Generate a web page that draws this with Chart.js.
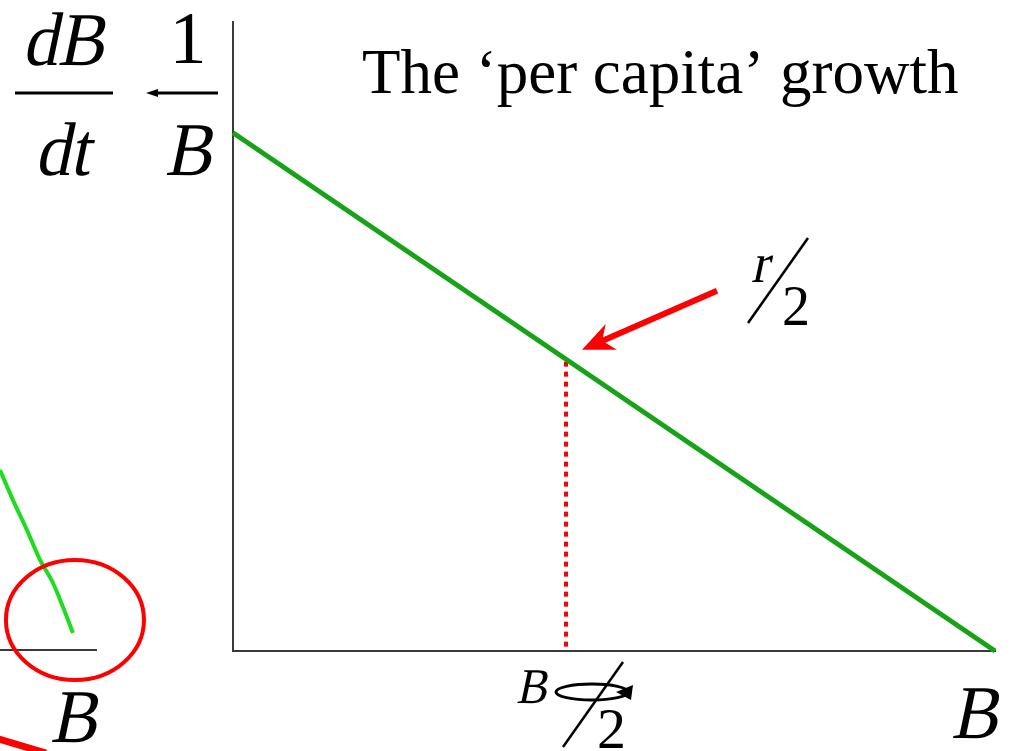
<!DOCTYPE html>
<html>
<head>
<meta charset="utf-8">
<script src="https://cdn.jsdelivr.net/npm/chart.js@4"></script>
<style>
  body { margin: 0; background: #fff; }
  canvas { position: absolute; }
  #main { left: 0; top: 0; }
  #side { left: 0; top: 440px; }
</style>
</head>
<body>
<canvas id="main" width="1011" height="751"></canvas>
<canvas id="side" width="160" height="311"></canvas>
<script>
// per capita growth: straight line from r at B=0 down to 0 at B=K
const growthX = [0, 1];
const growthY = [0.824, 0];
// dotted marker at K/2
const halfX = [0.437, 0.437];
const halfY = [0.46, 0];
// tail of the curve from the previous panel (cut off on the left)
const leftCurveX = [0, 0.135, 0.281, 0.417, 0.552, 0.656, 0.76];
const leftCurveY = [0.857, 0.714, 0.571, 0.429, 0.319, 0.205, 0.081];

const titleText = 'The \u2018per capita\u2019 growth';
const axisName = 'B';

const toPoints = (xs, ys) => xs.map((x, i) => ({x: x, y: ys[i]}));
const serif = '"Liberation Serif", "Times New Roman", serif';

function axisOpts(fitKey) {
    return {
        type: 'linear',
        min: 0,
        max: 1,
        grid: {display: true, drawOnChartArea: false, drawTicks: false},
        ticks: {display: false},
        border: {display: true, color: '#3a3a3a', width: 2},
        afterFit: s => { s[fitKey] = 0; }
    };
}

// italic is done by slanting the upright serif face (no serif italic installed)
function text(ctx, str, x, y, size, italic, align) {
    ctx.save();
    ctx.font = size + 'px ' + serif;
    ctx.textAlign = align || 'left';
    ctx.textBaseline = 'alphabetic';
    ctx.fillStyle = '#000';
    ctx.translate(x, y);
    if (italic) ctx.transform(0.92, 0, -0.21, 1, 0, 0);
    ctx.fillText(str, 0, 0);
    ctx.restore();
}

function line(ctx, x1, y1, x2, y2, w, color) {
    ctx.beginPath();
    ctx.moveTo(x1, y1);
    ctx.lineTo(x2, y2);
    ctx.lineWidth = w;
    ctx.strokeStyle = color;
    ctx.stroke();
}

const mainLabels = {
    id: 'mainLabels',
    afterDatasetsDraw(chart) {
        const ctx = chart.ctx;
        const xs = chart.scales.x, ys = chart.scales.y;
        ctx.save();

        // title
        text(ctx, titleText, 362, 93, 63, false);

        // dB/dt  1/B
        text(ctx, 'dB', 63, 65, 76, true, 'center');
        line(ctx, 15, 93, 113, 93, 3, '#000');
        text(ctx, 'dt', 62, 175, 76, true, 'center');
        text(ctx, '1', 188, 63, 74, false, 'center');
        line(ctx, 152, 93, 218, 93, 3, '#000');
        ctx.beginPath();
        ctx.moveTo(146, 93);
        ctx.lineTo(158, 89);
        ctx.lineTo(158, 97);
        ctx.closePath();
        ctx.fillStyle = '#000';
        ctx.fill();
        text(ctx, 'B', 188, 175, 76, true, 'center');

        // arrow pointing at the K/2 point
        const px = xs.getPixelForValue(halfX[0]);
        const py = ys.getPixelForValue(halfY[0]);
        const tipX = px + 16, tipY = py - 12;
        const tailX = tipX + 135, tailY = tipY - 59;
        const len = Math.hypot(tailX - tipX, tailY - tipY);
        const dx = (tailX - tipX) / len, dy = (tailY - tipY) / len;
        line(ctx, tailX, tailY, tipX + dx * 20, tipY + dy * 20, 6, '#ff0000');
        ctx.beginPath();
        ctx.moveTo(tipX, tipY);
        ctx.lineTo(tipX + dx * 32 + dy * 14, tipY + dy * 32 - dx * 14);
        ctx.lineTo(tipX + dx * 22, tipY + dy * 22);
        ctx.lineTo(tipX + dx * 32 - dy * 14, tipY + dy * 32 + dx * 14);
        ctx.closePath();
        ctx.fillStyle = '#ff0000';
        ctx.fill();

        // r/2
        text(ctx, 'r', 751, 282, 56, true);
        line(ctx, 748, 323, 808, 238, 2.5, '#000');
        text(ctx, '2', 782, 325, 56, false);

        // B/2 under the marker
        const bx = px;
        const by = xs.top;
        text(ctx, axisName, bx - 50, by + 52, 50, true);
        ctx.beginPath();
        ctx.ellipse(bx + 26, by + 41, 36, 8, 0, 0, Math.PI * 2);
        ctx.lineWidth = 3;
        ctx.strokeStyle = '#000';
        ctx.stroke();
        ctx.beginPath();
        ctx.moveTo(bx + 50, by + 41);
        ctx.lineTo(bx + 67, by + 34);
        ctx.lineTo(bx + 65, by + 49);
        ctx.closePath();
        ctx.fillStyle = '#000';
        ctx.fill();
        line(ctx, bx - 3, by + 96, bx + 57, by + 11, 2.5, '#000');
        text(ctx, '2', bx + 31, by + 97, 58, false);

        // B at the end of the axis
        text(ctx, axisName, xs.right - 44, by + 87, 76, true);

        ctx.restore();
    }
};

new Chart(document.getElementById('main'), {
    type: 'line',
    data: {
        datasets: [
            {
                data: toPoints(growthX, growthY),
                borderColor: '#17a317',
                borderWidth: 5,
                pointRadius: 0,
                clip: false
            },
            {
                data: toPoints(halfX, halfY),
                borderColor: '#ff0000',
                borderWidth: 4,
                borderDash: [5, 5],
                pointRadius: 0,
                clip: false
            }
        ]
    },
    options: {
        responsive: false,
        animation: false,
        layout: {padding: {left: 233, top: 22, right: 16, bottom: 100}},
        plugins: {legend: {display: false}, tooltip: {enabled: false}},
        scales: {
            x: axisOpts('height'),
            y: axisOpts('width')
        }
    },
    plugins: [mainLabels]
});

const sideMarks = {
    id: 'sideMarks',
    afterDatasetsDraw(chart) {
        const ctx = chart.ctx;
        const xs = chart.scales.x, ys = chart.scales.y;
        const n = leftCurveX.length - 1;
        const ex = xs.getPixelForValue(leftCurveX[n]);
        const ey = ys.getPixelForValue(leftCurveY[n]);
        ctx.save();
        // red circle round the end of the curve
        ctx.beginPath();
        ctx.ellipse(ex + 2, ey - 13, 69, 60, 0, 0, Math.PI * 2);
        ctx.lineWidth = 4;
        ctx.strokeStyle = '#ff0000';
        ctx.stroke();
        // axis name
        text(ctx, axisName, 50, xs.top + 92, 76, true);
        // piece of another red arrow at the bottom edge
        line(ctx, -5, 298, 46, 313, 7, '#ff0000');
        line(ctx, 186, 306, 188, 311, 2, '#000');
        ctx.restore();
    }
};

new Chart(document.getElementById('side'), {
    type: 'line',
    data: {
        datasets: [{
            data: toPoints(leftCurveX, leftCurveY),
            borderColor: '#1fdc1f',
            borderWidth: 4,
            pointRadius: 0,
            cubicInterpolationMode: 'monotone',
            clip: false
        }]
    },
    options: {
        responsive: false,
        animation: false,
        layout: {padding: {left: 0, top: 0, right: 64, bottom: 101}},
        plugins: {legend: {display: false}, tooltip: {enabled: false}},
        scales: {
            x: axisOpts('height'),
            y: {type: 'linear', min: 0, max: 1, display: false}
        }
    },
    plugins: [sideMarks]
});
</script>
</body>
</html>
